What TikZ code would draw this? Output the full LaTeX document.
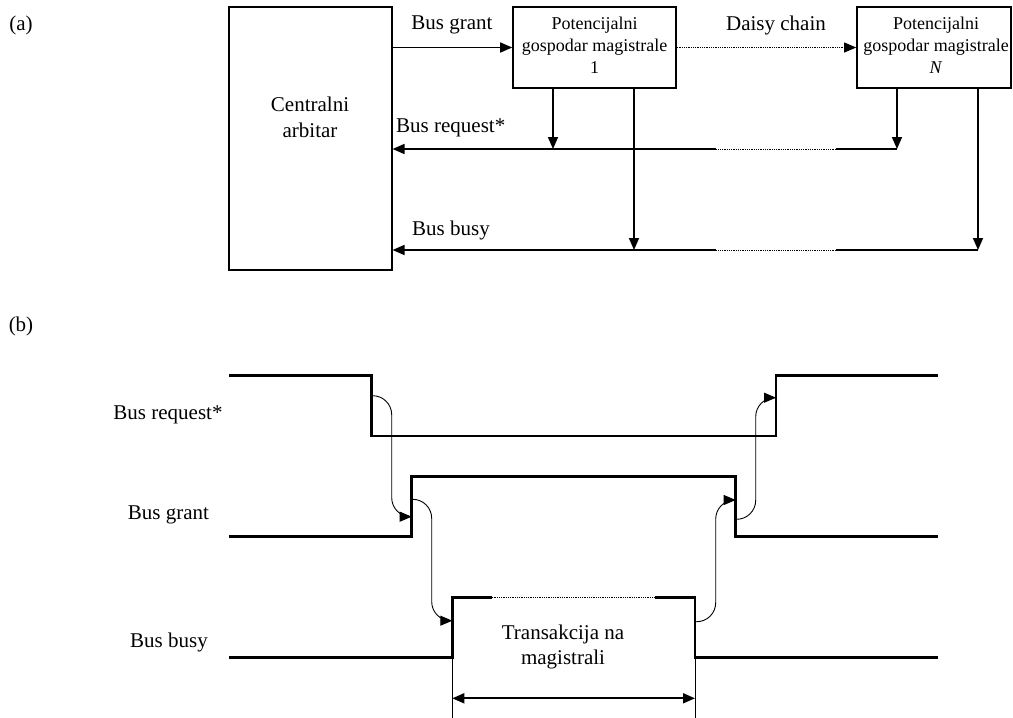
\documentclass[tikz,border=0pt]{standalone}
\usepackage{fontspec}
\setmainfont{Liberation Serif}
\usetikzlibrary{arrows.meta}
\begin{document}
\begin{tikzpicture}[x=1pt,y=-1pt,
  lbl/.style={font=\fontsize{21}{26}\selectfont, inner sep=0pt, align=center},
  boxlbl/.style={font=\fontsize{18}{22}\selectfont, align=center, inner sep=0pt},
  frame/.style={draw, line width=1.6pt, inner sep=0pt},
  tip/.style={-{Triangle[length=12pt,width=10pt]}},
  conn/.style={line width=1.6pt},
  bus/.style={line width=2.4pt},
  dots/.style={line width=0.8pt, dash pattern=on 0.9pt off 0.9pt},
  wave/.style={line width=2.8pt},
  cause/.style={line width=0.9pt, rounded corners=19pt, tip}]
\useasboundingbox (0,0) rectangle (1013,718);

% ---------- (a) centralised arbitration with daisy chain ----------
\node[lbl] (tagA) at (21,25) {(a)};

\node[frame, minimum width=162.5pt, minimum height=262.5pt] (arb) at (310.5,138.5) {};
\node[lbl] (arbtxt) at (310,117) {Centralni\\arbitar};

\node[frame, minimum width=163pt, minimum height=81pt] (m1) at (594.5,47.5) {};
\node[boxlbl] (m1txt) at (594.5,45) {Potencijalni\\gospodar magistrale\\1};

\node[frame, minimum width=154pt, minimum height=81pt] (mN) at (934,47.5) {};
\node[boxlbl] (mNtxt) at (936,45) {Potencijalni\\gospodar magistrale\\\textit{N}};

% grant line and daisy chain
\draw[conn, tip] (arb.east |- m1.west) -- (m1.west);
\node[lbl] (lgrant) at (452,25) {Bus grant};
\draw[dots, tip] (m1.east) -- (mN.west);
\node[lbl] (ldaisy) at (776,25) {Daisy chain};

% bus request line
\coordinate (rq1) at (553,149);
\coordinate (rqN) at (897,149);
\coordinate (rqA) at (716,149);
\coordinate (rqB) at (836,149);
\draw[conn, tip] ([xshift=-41.5pt]m1.south) -- (rq1);
\draw[conn, tip] ([xshift=-37pt]mN.south) -- (rqN);
\draw[bus] (rqN) -- (rqB);
\draw[dots] (rqB) -- (rqA);
\draw[conn, tip] (rqA) -- (arb.east |- rqA);
\node[lbl, anchor=west] (lreq) at (396,128) {Bus request*};

% bus busy line
\coordinate (bb1) at (634,250);
\coordinate (bbN) at (978,250);
\coordinate (bbA) at (716,250);
\coordinate (bbB) at (836,250);
\draw[conn, tip] ([xshift=39.5pt]m1.south) -- (bb1);
\draw[conn, tip] ([xshift=44pt]mN.south) -- (bbN);
\draw[bus] (bbN) -- (bbB);
\draw[dots] (bbB) -- (bbA);
\draw[conn, tip] (bbA) -- (arb.east |- bbA);
\node[lbl, anchor=west] (lbusy) at (412,230) {Bus busy};

% ---------- (b) timing diagram ----------
\node[lbl] (tagB) at (21,326) {(b)};

\node[lbl] (treq) at (168,415) {Bus request*};
\node[lbl] (tgrant) at (168.5,515) {Bus grant};
\node[lbl] (tbusy) at (169,642) {Bus busy};

% waveforms
\draw[wave] (229,375.7) -- (371.7,375.7) -- (371.7,436) -- (776,436)
            -- (776,375.7) -- (937.7,375.7);
\draw[wave] (229,536.7) -- (411.7,536.7) -- (411.7,476.7) -- (735.7,476.7)
            -- (735.7,536.7) -- (937.7,536.7);
\draw[wave] (229,657.7) -- (452.3,657.7) -- (452.3,597.7) -- (491.7,597.7);
\draw[dots] (491.7,597.7) -- (655,597.7);
\draw[wave] (655,597.7) -- (695,597.7) -- (695,657.7) -- (937.7,657.7);

% cause and effect
\draw[cause] (371.7,395.7) -- (391.7,395.7) -- (391.7,516.7) -- (411.7,516.7);
\draw[cause] (411.7,499.3) -- (431.7,499.3) -- (431.7,620.7) -- (452.3,620.7);
\draw[cause] (695,621.7) -- (715.7,621.7) -- (715.7,500) -- (735.7,500);
\draw[cause] (735.7,519.3) -- (755.7,519.3) -- (755.7,397.7) -- (776,397.7);

% transaction span
\node[lbl, font=\fontsize{21}{25}\selectfont] (ttrans) at (563,647) {Transakcija na\\magistrali};
\draw[line width=0.9pt] (452.3,657.7) -- (452.3,718);
\draw[line width=0.9pt] (695,657.7) -- (695,718);
\draw[line width=1.8pt, {Triangle[length=12pt,width=10pt]}-{Triangle[length=12pt,width=10pt]}]
  (452.3,698.3) -- (695,698.3);
\end{tikzpicture}
\end{document}
